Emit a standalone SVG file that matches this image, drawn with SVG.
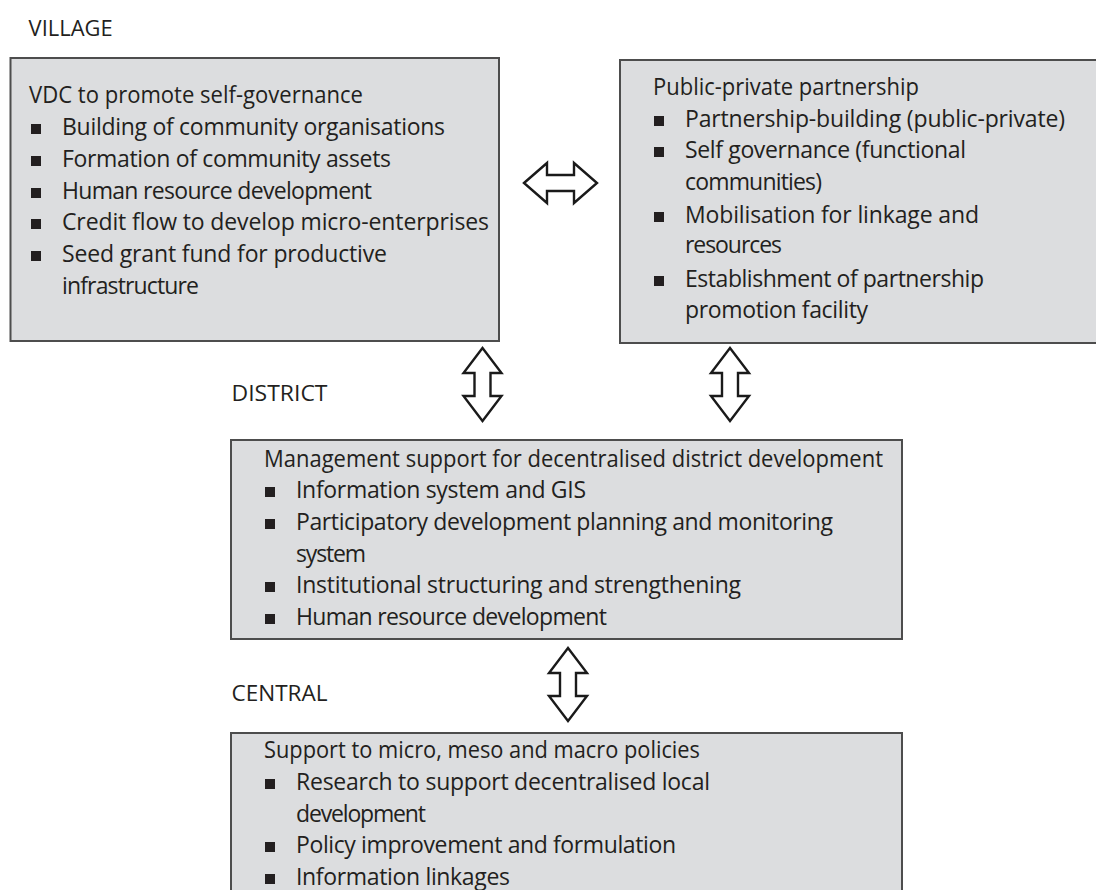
<svg xmlns="http://www.w3.org/2000/svg" width="1096" height="890" viewBox="0 0 1096 890">
<style>
.box{fill:#dcdddf;stroke:#4d4d4d;stroke-width:2}
text{font-family:"Open Sans","Noto Sans","DejaVu Sans",sans-serif;font-size:23px;fill:#231f20}
.lvl{font-size:21px}
.b{fill:#231f20}
.arrow{fill:#ffffff;stroke:#1a1a1a;stroke-width:2.4;stroke-linejoin:miter}
</style>
<defs>
<rect id="bul" width="10" height="10" class="b"/>
</defs>
<rect width="1096" height="890" fill="#ffffff"/>
<text class="lvl" x="28.6" y="36" textLength="84" lengthAdjust="spacingAndGlyphs">VILLAGE</text>
<text class="lvl" x="231.5" y="401" textLength="96" lengthAdjust="spacingAndGlyphs">DISTRICT</text>
<text class="lvl" x="231.5" y="701" textLength="96" lengthAdjust="spacingAndGlyphs">CENTRAL</text>

<g id="vdc">
<rect class="box" x="10.5" y="58" width="488.5" height="283"/>
<text x="29" y="103" textLength="334" lengthAdjust="spacingAndGlyphs">VDC to promote self-governance</text>
<use href="#bul" x="31" y="124"/><text x="62" y="135" textLength="383" lengthAdjust="spacing">Building of community organisations</text>
<use href="#bul" x="31" y="156"/><text x="62" y="167" textLength="329" lengthAdjust="spacing">Formation of community assets</text>
<use href="#bul" x="31" y="188"/><text x="62" y="199" textLength="310" lengthAdjust="spacing">Human resource development</text>
<use href="#bul" x="31" y="219"/><text x="62" y="230" textLength="427" lengthAdjust="spacing">Credit flow to develop micro-enterprises</text>
<use href="#bul" x="31" y="251"/><text x="62" y="262" textLength="325" lengthAdjust="spacing">Seed grant fund for productive</text>
<text x="62" y="294" textLength="137" lengthAdjust="spacing">infrastructure</text>
</g>

<g id="ppp">
<rect class="box" x="620" y="60" width="480" height="283"/>
<text x="653" y="95" textLength="266" lengthAdjust="spacingAndGlyphs">Public-private partnership</text>
<use href="#bul" x="654" y="116"/><text x="685" y="127" textLength="380" lengthAdjust="spacing">Partnership-building (public-private)</text>
<use href="#bul" x="654" y="147"/><text x="685" y="158" textLength="281" lengthAdjust="spacing">Self governance (functional</text>
<text x="685" y="190" textLength="137" lengthAdjust="spacing">communities)</text>
<use href="#bul" x="654" y="212"/><text x="685" y="223" textLength="294" lengthAdjust="spacing">Mobilisation for linkage and</text>
<text x="685" y="253" textLength="97" lengthAdjust="spacing">resources</text>
<use href="#bul" x="654" y="276"/><text x="685" y="287" textLength="299" lengthAdjust="spacing">Establishment of partnership</text>
<text x="685" y="318" textLength="183" lengthAdjust="spacing">promotion facility</text>
</g>

<g id="district">
<rect class="box" x="231" y="440" width="671" height="199"/>
<text x="264" y="467" textLength="619" lengthAdjust="spacingAndGlyphs">Management support for decentralised district development</text>
<use href="#bul" x="265" y="487"/><text x="296" y="498" textLength="290" lengthAdjust="spacing">Information system and GIS</text>
<use href="#bul" x="265" y="519"/><text x="296" y="530" textLength="537" lengthAdjust="spacing">Participatory development planning and monitoring</text>
<text x="296" y="562" textLength="70" lengthAdjust="spacing">system</text>
<use href="#bul" x="265" y="582"/><text x="296" y="593" textLength="445" lengthAdjust="spacing">Institutional structuring and strengthening</text>
<use href="#bul" x="265" y="614"/><text x="296" y="625" textLength="311" lengthAdjust="spacing">Human resource development</text>
</g>

<g id="central">
<rect class="box" x="231" y="733" width="671" height="170"/>
<text x="264" y="758" textLength="436" lengthAdjust="spacingAndGlyphs">Support to micro, meso and macro policies</text>
<use href="#bul" x="265" y="779"/><text x="296" y="790" textLength="414" lengthAdjust="spacing">Research to support decentralised local</text>
<text x="296" y="822" textLength="130" lengthAdjust="spacing">development</text>
<use href="#bul" x="265" y="842"/><text x="296" y="853" textLength="380" lengthAdjust="spacing">Policy improvement and formulation</text>
<use href="#bul" x="265" y="874"/><text x="296" y="885" textLength="214" lengthAdjust="spacing">Information linkages</text>
</g>

<g id="connectors">
<path class="arrow" d="M524,183 L547,163 L547,175 L574,175 L574,163 L597,183 L574,203 L574,191 L547,191 L547,203 Z"/>
<path class="arrow" d="M482.5,348 L501.5,373 L490.5,373 L490.5,396 L501.5,396 L482.5,421 L463.5,396 L474.5,396 L474.5,373 L463.5,373 Z"/>
<path class="arrow" d="M730,348 L749,373 L738,373 L738,396 L749,396 L730,421 L711,396 L722,396 L722,373 L711,373 Z"/>
<path class="arrow" d="M568,648 L587,673 L576,673 L576,696 L587,696 L568,721 L549,696 L560,696 L560,673 L549,673 Z"/>
</g>
</svg>
